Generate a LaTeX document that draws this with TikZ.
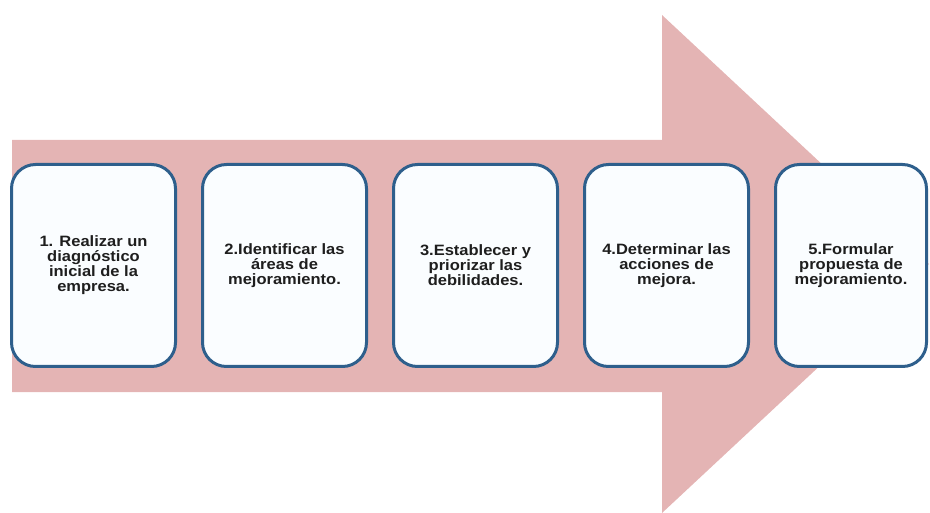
\documentclass[tikz,border=0pt]{standalone}
\usepackage{fontspec}
\setmainfont[FakeStretch=1.1]{Liberation Sans}
\usepackage{tikz}
\usetikzlibrary{positioning}
\definecolor{arrowpink}{RGB}{228,180,180}
\definecolor{boxblue}{RGB}{46,95,140}
\definecolor{boxfill}{RGB}{250,253,255}
\definecolor{txt}{RGB}{30,30,30}
\tikzset{
  stepbox/.style={draw=boxblue, line width=3pt, fill=boxfill, rounded corners=24pt,
    minimum width=164pt, minimum height=202pt, align=center, text=txt,
    font=\fontsize{15}{15}\selectfont\bfseries, inner sep=0pt}
}

\begin{document}
\begin{tikzpicture}[x=1pt, y=-1pt, node distance=24pt]
\useasboundingbox (0,0) rectangle (930,513);
\fill[arrowpink] (12,140) -- (662,140) -- (662,15) -- (929,264) -- (662,513)
  -- (662,392) -- (12,392) -- cycle;
\node[stepbox] (s1) at (93.5,265.5) {1. Realizar un\\diagnóstico\\inicial de la\\empresa.};
\node[stepbox, right=of s1] (s2) {2.Identificar las\\áreas de\\mejoramiento.};
\node[stepbox, right=of s2] (s3) {3.Establecer y\\priorizar las\\debilidades.};
\node[stepbox, right=of s3] (s4) {4.Determinar las\\acciones de\\mejora.};
\node[stepbox, right=of s4, minimum width=151pt] (s5) {5.Formular\\propuesta de\\mejoramiento.};
\end{tikzpicture}
\end{document}
